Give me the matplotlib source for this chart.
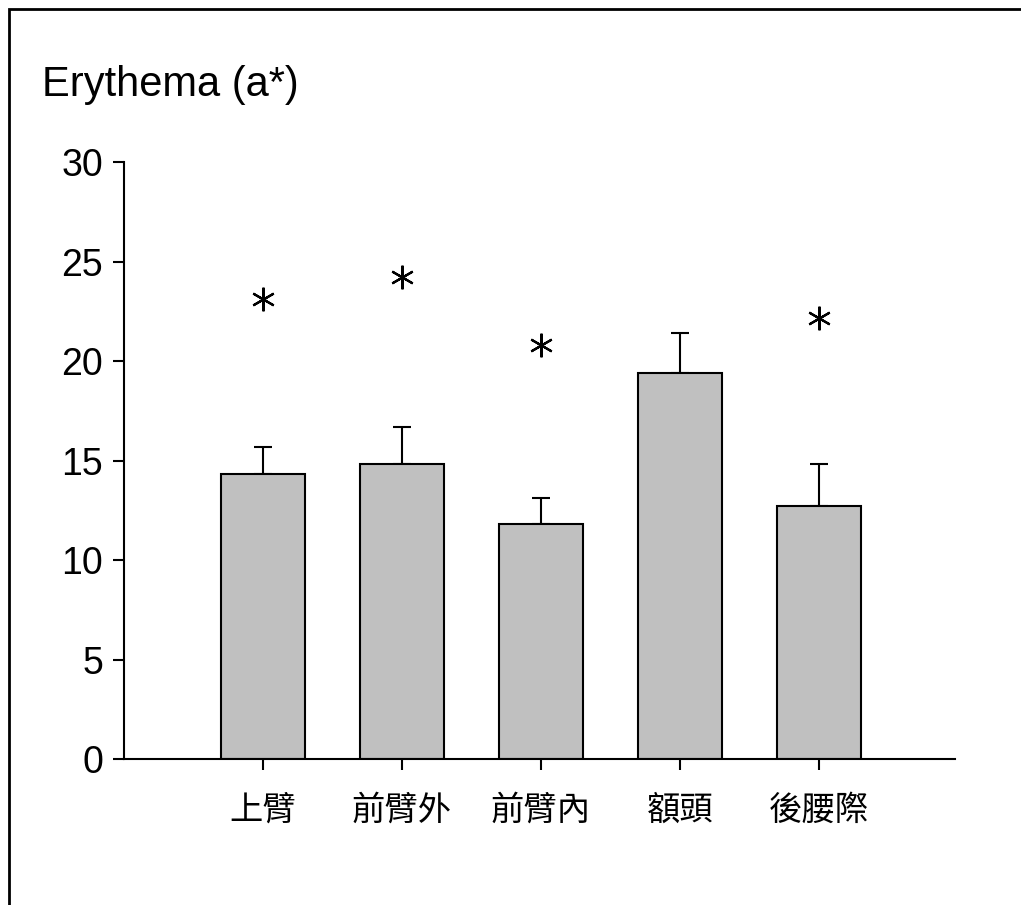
import matplotlib
matplotlib.use("Agg")
import matplotlib.pyplot as plt
from matplotlib.patches import Rectangle

categories = ["上臂", "前臂外", "前臂內", "額頭", "後腰際"]
means = [14.3, 14.8, 11.8, 19.4, 12.7]
errors = [1.4, 1.9, 1.3, 2.0, 2.1]
star_y = [23.1, 24.2, 20.8, None, 22.15]
yticks = [0, 5, 10, 15, 20, 25, 30]

fig = plt.figure(figsize=(10.21, 9.05), dpi=100)
ax = fig.add_axes([124/1021, 1-759/905, (955-124)/1021, (759-162)/905])

x = list(range(len(categories)))
ax.bar(x, means, width=0.6, color="#C0C0C0", edgecolor="black", linewidth=1.5, zorder=2)
ax.errorbar(x, means, yerr=[[0]*len(errors), errors], fmt="none", ecolor="black",
            elinewidth=1.5, capsize=6.5, capthick=1.5, zorder=1)

sx = [i for i, s in zip(x, star_y) if s is not None]
sy = [s for s in star_y if s is not None]
ax.plot(sx, sy, linestyle="none", marker=(6, 2, 0), markersize=17,
        markeredgewidth=1.6, color="black")

ax.set_xlim(-1, 4.98)
ax.set_ylim(0, 30)
ax.set_yticks(yticks)
ax.set_xticks(x)
ax.set_xticklabels(categories, fontfamily=["Noto Sans CJK TC", "DejaVu Sans"], fontsize=24)
for lab in ax.get_yticklabels():
    lab.set_fontfamily("Liberation Sans")
    lab.set_fontsize(27)
ax.tick_params(axis="both", direction="out", length=8, width=1.5)
ax.tick_params(axis="y", pad=7)
ax.tick_params(axis="x", pad=16)
for side in ["top", "right"]:
    ax.spines[side].set_visible(False)
for side in ["left", "bottom"]:
    ax.spines[side].set_linewidth(1.5)

fig.text(42/1021, 1-96/905, "Erythema (a*)", fontfamily="Liberation Sans", fontsize=30,
         ha="left", va="baseline")

fig.patches.append(Rectangle((9/1021, -0.05), 1.1, 1-9/905+0.05, transform=fig.transFigure,
                             fill=False, edgecolor="black", linewidth=2, clip_on=False))

fig.savefig("out.png", dpi=100)
